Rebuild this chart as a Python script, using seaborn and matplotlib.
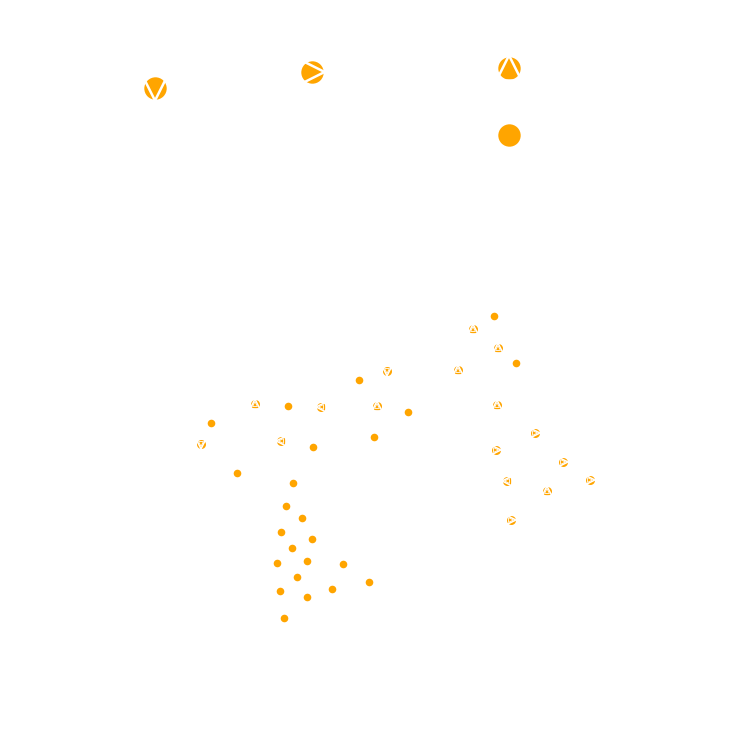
"""
Orange scatter with patterned and plain markers, no axes
"""
import matplotlib
matplotlib.use("Agg")
import matplotlib.pyplot as plt
import seaborn as sns
import pandas as pd

# plain dots (small)
dot_x = [359, 288, 408, 211, 374, 313, 237, 293, 494, 516,
         286, 302, 281, 312, 292, 277, 307, 343, 297, 369,
         280, 332, 307, 284]
dot_y = [380, 406, 412, 423, 437, 447, 473, 483, 316, 363,
         506, 518, 532, 539, 548, 563, 561, 564, 577, 582,
         591, 589, 597, 618]

# patterned dots (small), with the triangle direction seen in each
pat_x = [387, 255, 321, 377, 201, 281, 473, 498, 458, 497,
         535, 496, 563, 590, 507, 547, 511]
pat_y = [371, 404, 407, 406, 444, 441, 329, 348, 370, 405,
         433, 450, 462, 480, 481, 491, 520]
pat_dir = ['v', '^', '<', '^', 'v', '<', '^', '^', '^', '^',
           '>', '>', '>', '>', '<', '^', '>']

# big markers at the top
big_x = [155, 312, 509]
big_y = [88, 72, 68]
big_dir = ['v', '>', '^']
big_dot_x = [509]
big_dot_y = [135]

ORANGE = '#FFA500'

sns.set_style("white")
fig = plt.figure(figsize=(7.5, 7.5), dpi=100)
ax = fig.add_axes([0, 0, 1, 1])

dots = pd.DataFrame({'x': dot_x, 'y': dot_y})
pats = pd.DataFrame({'x': pat_x, 'y': pat_y, 'dir': pat_dir})
bigs = pd.DataFrame({'x': big_x, 'y': big_y, 'dir': big_dir})
big_dots = pd.DataFrame({'x': big_dot_x, 'y': big_dot_y})

sns.scatterplot(data=dots, x='x', y='y', color=ORANGE, s=30,
                linewidth=0, ax=ax)
sns.scatterplot(data=big_dots, x='x', y='y', color=ORANGE, s=260,
                linewidth=0, ax=ax)

# patterned: orange disc with white triangle lines cut across it
sns.scatterplot(data=pats, x='x', y='y', color=ORANGE, s=42,
                linewidth=0, ax=ax)
for d, grp in pats.groupby('dir'):
    ax.scatter(grp['x'], grp['y'], marker=d, s=50, facecolors='none',
               edgecolors='white', linewidths=1.1, zorder=5)
    ax.scatter(grp['x'], grp['y'], marker=d, s=12, facecolors='none',
               edgecolors='white', linewidths=0.6, zorder=5)

sns.scatterplot(data=bigs, x='x', y='y', color=ORANGE, s=260,
                linewidth=0, ax=ax)
for d, grp in bigs.groupby('dir'):
    ax.scatter(grp['x'], grp['y'], marker=d, s=330, facecolors='none',
               edgecolors='white', linewidths=1.8, zorder=5)

ax.set_xlim(0, 750)
ax.set_ylim(750, 0)
ax.set_axis_off()

plt.savefig('out.png', dpi=100)
plt.close()
